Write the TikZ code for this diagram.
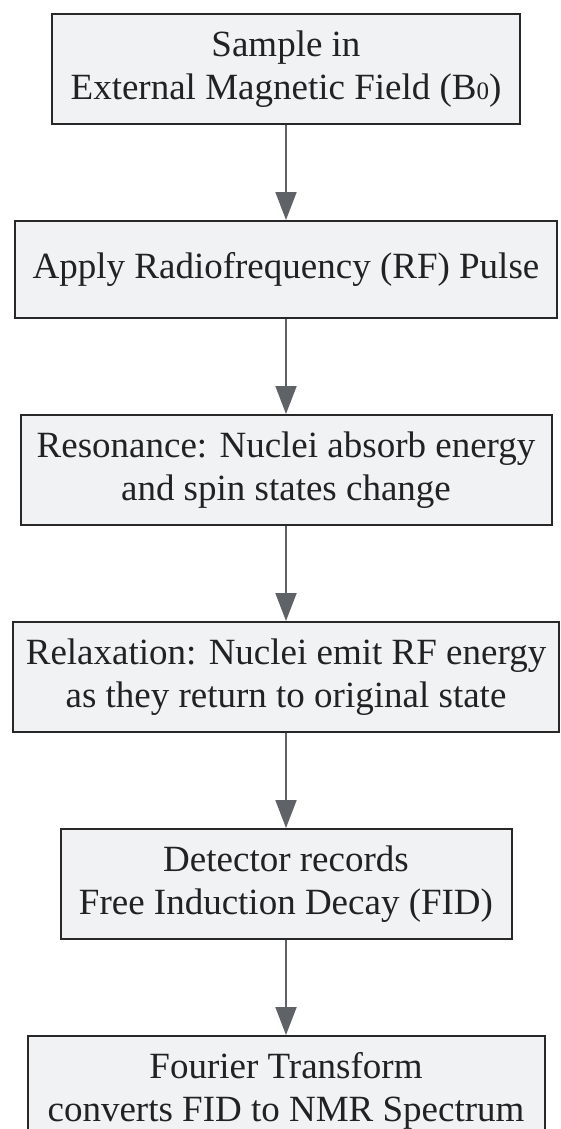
\documentclass[tikz,border=0pt]{standalone}
\usepackage{fontspec}
\setmainfont{Liberation Serif}
\usepackage{tikz}
\usetikzlibrary{arrows.meta, positioning}
\definecolor{boxfill}{RGB}{241,242,244}
\definecolor{boxline}{RGB}{40,40,40}
\definecolor{arrowgray}{RGB}{95,99,104}
\definecolor{textgray}{RGB}{34,34,34}

\begin{document}
\begin{tikzpicture}[x=1pt, y=1pt]
% TikZ styles
\tikzset{
  stage/.style={rectangle, draw=boxline, fill=boxfill, line width=2pt, text=textgray, align=center, inner sep=0pt, minimum height=110pt, font=\fontsize{37}{43}\selectfont},
  arrow/.style={-{Triangle[length=28pt, width=21pt]}, draw=arrowgray, line width=2pt}
};
\useasboundingbox (0,0) rectangle (560,-1129);

%==========================
% NMR Ablauf
%==========================
\node[stage, minimum width=468pt, anchor=north] (sample) at (286,-13) {Sample in \\ External Magnetic Field (B{\fontsize{25}{25}\selectfont 0})};

\node[stage, minimum width=542pt, minimum height=97pt, below=95pt of sample] (rfpulse) {Apply Radiofrequency (RF) Pulse};

\node[stage, minimum width=531pt, below=95pt of rfpulse] (resonance) {Resonance: Nuclei absorb energy \\ and spin states change};

\node[stage, minimum width=546pt, below=95pt of resonance] (relax) {Relaxation: Nuclei emit RF energy \\ as they return to original state};

\node[stage, minimum width=451pt, below=95pt of relax] (detector) {Detector records \\ Free Induction Decay (FID)};

\node[stage, minimum width=517pt, below=95pt of detector] (fourier) {Fourier Transform \\ converts FID to NMR Spectrum};

% === Pfeile ===
\draw[arrow] (sample.south) -- (rfpulse.north);
\draw[arrow] (rfpulse.south) -- (resonance.north);
\draw[arrow] (resonance.south) -- (relax.north);
\draw[arrow] (relax.south) -- (detector.north);
\draw[arrow] (detector.south) -- (fourier.north);
\end{tikzpicture}
\end{document}
